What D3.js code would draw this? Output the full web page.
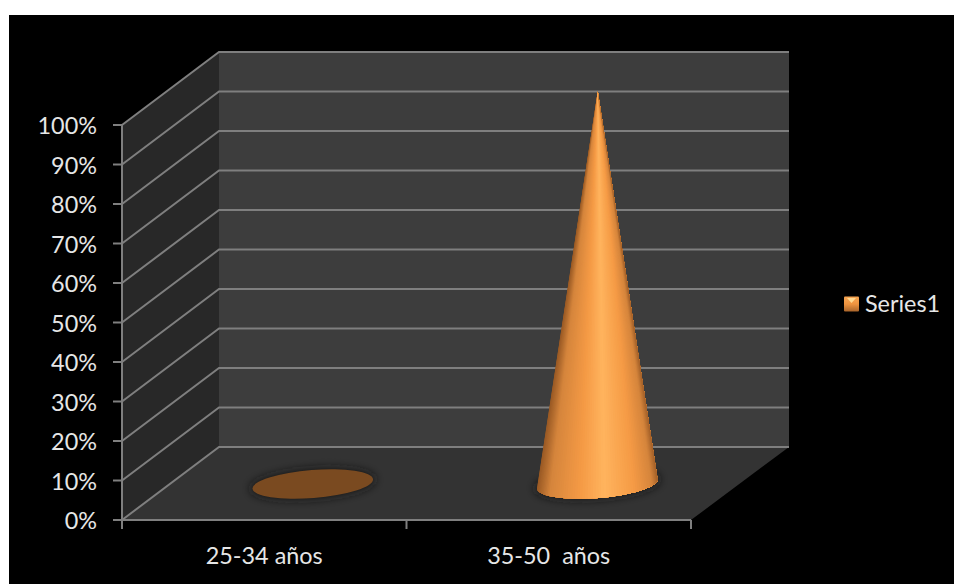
<!DOCTYPE html>
<html><head><meta charset="utf-8">
<script src="https://cdn.jsdelivr.net/npm/d3@7"></script>
<style>html,body{margin:0;background:#fff}svg{display:block}text{font-family:Lato,"Open Sans",sans-serif;white-space:pre}</style>
</head><body><svg id="c" width="954" height="584"></svg>
<script>
const categories = ["25-34 años", "35-50  años"];
const values = [0, 100];
const seriesName = "Series1";
const ticks = [0,10,20,30,40,50,60,70,80,90,100];

const svg = d3.select("#c");
const W=954,H=584;
const dx=97, dy=-73;
const y = d3.scaleLinear().domain([0,100]).range([520,125]);
const xBand = d3.scaleBand().domain(categories).range([122,691]);
const grid="#7f7f7f", ink="#e6e6e6", fs=23.4;

const defs = svg.append("defs");
const lg = defs.append("linearGradient").attr("id","leg").attr("x1",0).attr("x2",0).attr("y1",0).attr("y2",1);
[[0,"#f7a552"],[.5,"#ee9440"],[1,"#a8642a"]].forEach(s=>lg.append("stop").attr("offset",s[0]).attr("stop-color",s[1]));
const blur = defs.append("filter").attr("id","b").attr("x","-30%").attr("y","-100%").attr("width","160%").attr("height","300%");
blur.append("feGaussianBlur").attr("stdDeviation",5);
const soft = defs.append("filter").attr("id","s");
soft.append("feGaussianBlur").attr("stdDeviation",0.5);

svg.append("rect").attr("x",9).attr("y",15).attr("width",W-9).attr("height",H-15).attr("fill","#000");

const line = d3.line();
svg.append("path").attr("d",line([[122,y(0)],[122,y(100)],[122+dx,y(100)+dy],[122+dx,y(0)+dy]])+"Z").attr("fill","#282828");
svg.append("rect").attr("x",122+dx).attr("y",y(100)+dy).attr("width",570).attr("height",y(0)-y(100)).attr("fill","#3d3d3d");
svg.append("path").attr("d",line([[122,y(0)],[691,y(0)],[691+dx+1,y(0)+dy],[122+dx,y(0)+dy]])+"Z").attr("fill","#333333");

ticks.forEach(t=>{
  svg.append("path").attr("fill","none").attr("stroke",grid).attr("stroke-width",2)
    .attr("d",line([[122,y(t)],[122+dx,y(t)+dy],[789,y(t)+dy]]));
  svg.append("line").attr("x1",113).attr("x2",122).attr("y1",y(t)).attr("y2",y(t)).attr("stroke",grid).attr("stroke-width",2);
  svg.append("text").attr("x",97).attr("y",y(t)).attr("dy","0.4em").attr("text-anchor","end")
    .attr("fill",ink).attr("font-size",fs).text(t+"%");
});
svg.append("line").attr("x1",122).attr("x2",122).attr("y1",y(100)).attr("y2",y(0)+9).attr("stroke",grid).attr("stroke-width",2);
svg.append("line").attr("x1",122).attr("x2",691).attr("y1",y(0)).attr("y2",y(0)).attr("stroke",grid).attr("stroke-width",2);
categories.forEach(c=>{
  const r = xBand(c)+xBand.bandwidth();
  svg.append("line").attr("x1",r).attr("x2",r).attr("y1",y(0)).attr("y2",y(0)+9).attr("stroke",grid).attr("stroke-width",2);
  svg.append("text").attr("x",xBand(c)+xBand.bandwidth()/2).attr("y",564).attr("text-anchor","middle")
    .attr("fill",ink).attr("font-size",fs).text(c);
});

const rx=60.5, ry=14, rot=-4.5;
const a = rot*Math.PI/180, ca=Math.cos(a), sa=Math.sin(a);
const shade = d3.scaleLinear().domain([0,.1,.35,.55,.8,.95,1])
  .range(["#9a5a25","#d5853c","#f59a45","#ffb45e","#f59a45","#d5853c","#a5622a"]);
categories.forEach((c,i)=>{
  const cx = xBand(c)+xBand.bandwidth()/2+dx/2;
  const cy = y(0)+dy/2+0.5;
  const v = values[i];
  const top = y(v)+dy/2;
  svg.append("ellipse").attr("cx",cx).attr("cy",cy).attr("rx",rx+2).attr("ry",ry+1)
    .attr("transform",`rotate(${rot} ${cx} ${cy})`).attr("fill","#161616").attr("filter","url(#b)");
  if(v===0){
    svg.append("ellipse").attr("cx",cx).attr("cy",cy).attr("rx",rx).attr("ry",ry)
      .attr("transform",`rotate(${rot} ${cx} ${cy})`).attr("fill","#7a4a20");
  } else {
    const pt = th => {
      const ex=rx*Math.cos(th), ey=ry*Math.sin(th);
      return [cx+ex*ca-ey*sa, cy+ex*sa+ey*ca];
    };
    const n=70, apex=[cx+0.5,top+3];
    const g=svg.append("g");
    const ths=d3.range(n+1).map(k=>Math.PI*(1-k/n));
    d3.range(n).forEach(k=>{
      // each wedge runs to the far edge; the next one paints over it, which hides the seams
      const u=(1-Math.cos(ths[k]*0+Math.PI*k/n)+1-Math.cos(Math.PI*(k+1)/n))/4;
      g.append("path").attr("d",line([apex,...ths.slice(k).map(pt)])+"Z").attr("fill",shade(u));
    });
  }
});

svg.append("rect").attr("x",844).attr("y",296.5).attr("width",15).attr("height",15).attr("rx",1).attr("fill","url(#leg)").attr("filter","url(#s)");
svg.append("path").attr("d",line([[847,298],[856,298],[851.5,303]])+"Z").attr("fill","#ffd890").attr("filter","url(#s)");
svg.append("text").attr("x",865).attr("y",312).attr("fill",ink).attr("font-size",fs).text(seriesName);
</script></body></html>
